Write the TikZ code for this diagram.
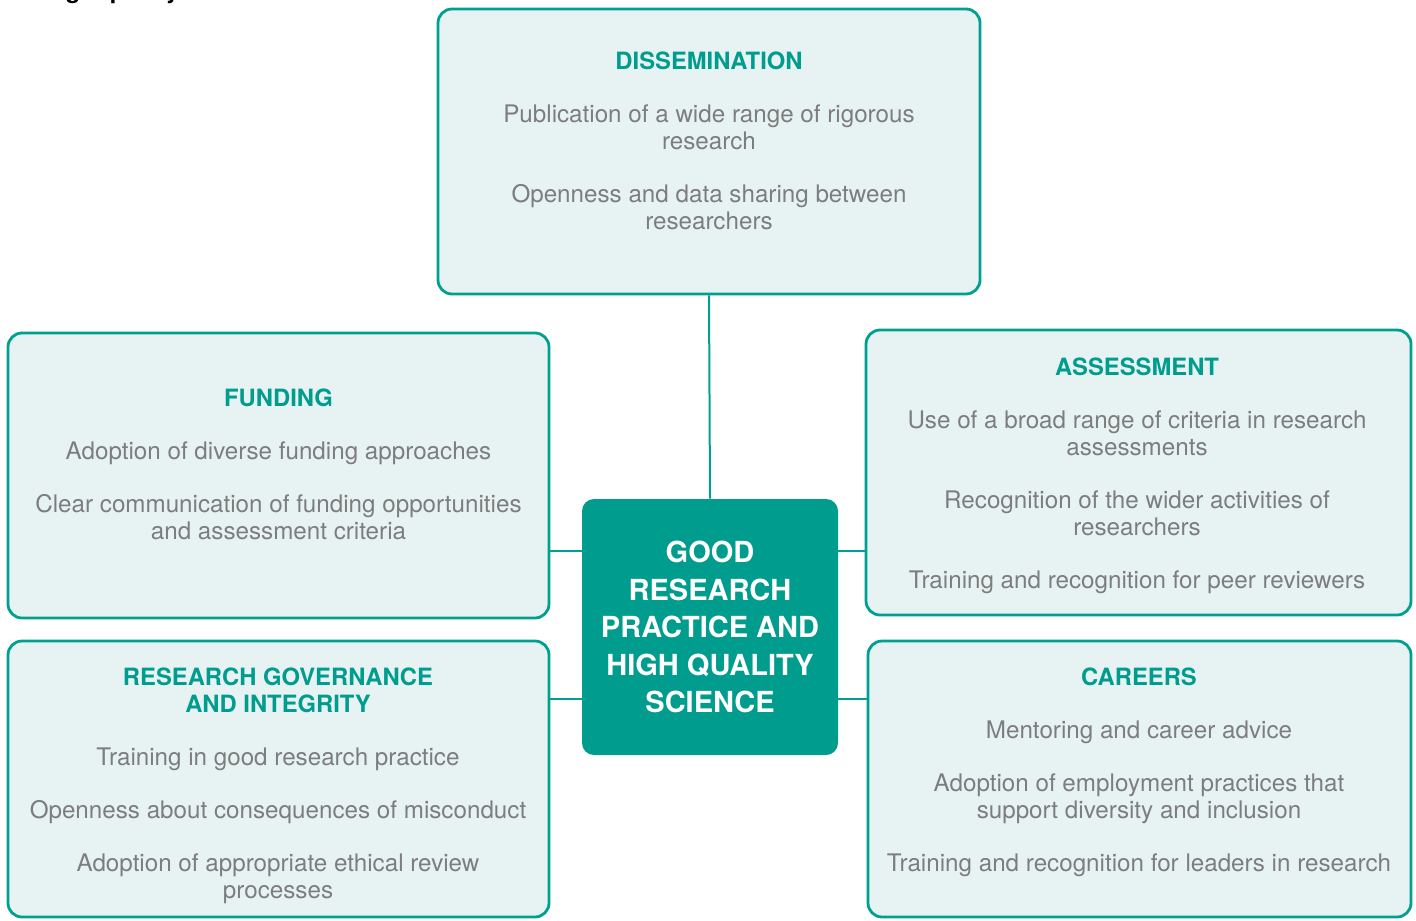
\documentclass[tikz,border=0pt]{standalone}
\usepackage{fontspec}
\setmainfont{TeX Gyre Heros}
\usetikzlibrary{positioning}
\definecolor{boxteal}{HTML}{00A091}
\definecolor{boxfill}{HTML}{E7F3F3}
\definecolor{coreteal}{HTML}{009C8E}
\definecolor{bodygrey}{HTML}{7D7D7D}
\tikzset{%
    areabox/.style={draw=boxteal, fill=boxfill, line width=1.4pt,
        rounded corners=7pt, inner sep=0pt},
    areatext/.style={align=center, text=bodygrey, inner sep=0pt,
        font=\fontsize{12.1}{13.5}\selectfont},
    corebox/.style={fill=coreteal, rounded corners=6pt, inner sep=0pt,
        minimum width=128pt, minimum height=128pt},
    link/.style={draw=boxteal, line width=1pt}
}
\newcommand{\areatitle}[1]{{\color{coreteal}\bfseries\fontsize{11.9}{13.5}\selectfont #1}}

\begin{document}
\begin{tikzpicture}[x=0.5pt,y=-0.5pt]
	\useasboundingbox (0,0) rectangle (1416,920);

	% cut heading
	\node[anchor=base west, inner sep=0pt, font=\fontsize{12}{14}\selectfont\bfseries] (cut) at (44,-1) {high quality};

	% boxes
	\node[areabox, minimum width=271pt, minimum height=142.5pt] (dissem) at (709,151.5) {};
	\node[areabox, minimum width=270.5pt, minimum height=142.5pt] (funding) at (278.5,475.5) {};
	\node[areabox, minimum width=272.5pt, minimum height=142.5pt] (assess) at (1138.5,472.5) {};
	\node[areabox, minimum width=270.5pt, minimum height=138pt] (govern) at (278.5,779) {};
	\node[areabox, minimum width=271.5pt, minimum height=138pt] (careers) at (1139.5,779) {};
	\node[corebox] (core) at (710,627) {};

	% connectors
	\draw[link] (dissem.south) -- (core.north);
	\draw[link] ([yshift=38pt]core.west) -- ([yshift=38pt]core.west -| funding.east);
	\draw[link] ([yshift=-36pt]core.west) -- ([yshift=-36pt]core.west -| govern.east);
	\draw[link] ([yshift=38pt]core.east) -- ([yshift=38pt]core.east -| assess.west);
	\draw[link] ([yshift=-36pt]core.east) -- ([yshift=-36pt]core.east -| careers.west);

	% texts
	\node[areatext] (dissemtext) at (709,140.5) {\areatitle{DISSEMINATION}\\[13pt]
		Publication of a wide range of rigorous\\research\\[13pt]
		Openness and data sharing between\\researchers};
	\node[areatext] (fundingtext) at (278.5,464) {\areatitle{FUNDING}\\[13pt]
		Adoption of diverse funding approaches\\[13pt]
		Clear communication of funding opportunities\\and assessment criteria};
	\node[areatext] (assesstext) at (1137,475.5) {\areatitle{ASSESSMENT}\\[13pt]
		Use of a broad range of criteria in research\\assessments\\[13pt]
		Recognition of the wider activities of\\researchers\\[13pt]
		Training and recognition for peer reviewers};
	\node[areatext] (governtext) at (278,785.5) {\areatitle{RESEARCH GOVERNANCE}\\\areatitle{AND INTEGRITY}\\[13pt]
		Training in good research practice\\[13pt]
		Openness about consequences of misconduct\\[13pt]
		Adoption of appropriate ethical review\\processes};
	\node[areatext] (careerstext) at (1139,772) {\areatitle{CAREERS}\\[13pt]
		Mentoring and career advice\\[13pt]
		Adoption of employment practices that\\support diversity and inclusion\\[13pt]
		Training and recognition for leaders in research};
	\node[align=center, text=white, inner sep=0pt, font=\fontsize{14.5}{18.75}\selectfont\bfseries] (coretext) at (core.center) {GOOD\\RESEARCH\\PRACTICE AND\\HIGH QUALITY\\SCIENCE};
\end{tikzpicture}
\end{document}
